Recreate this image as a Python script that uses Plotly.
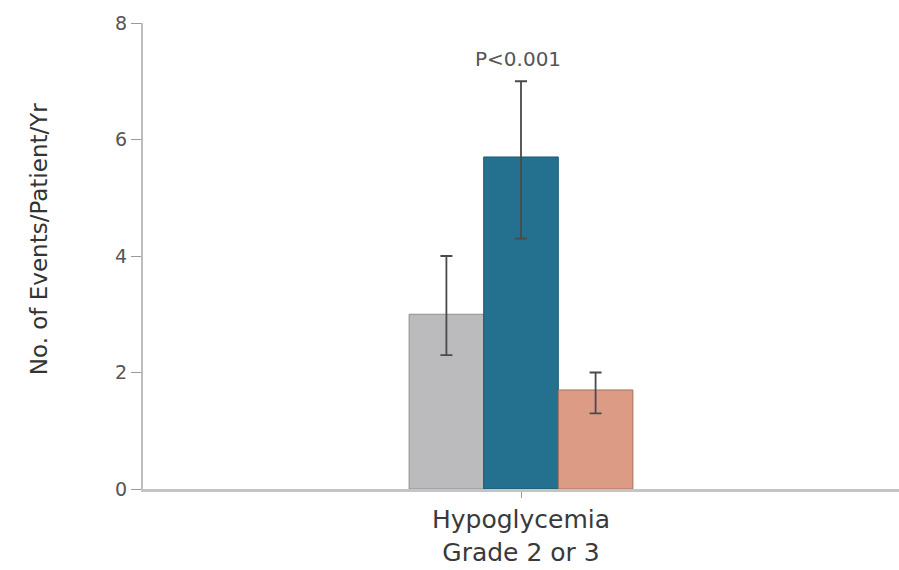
import plotly.graph_objects as go

categories = ["Hypoglycemia<br>Grade 2 or 3"]
groups = ["Group A", "Group B", "Group C"]
values = [3.0, 5.7, 1.7]
err_upper = [4.0, 7.0, 2.0]
err_lower = [2.3, 4.3, 1.3]
colors = ["#bbbbbd", "#23718f", "#dc9b85"]
line_colors = ["#8e8e90", "#1d5a72", "#a9705d"]
y_ticks = [0, 2, 4, 6, 8]
p_label = "P<0.001"
y_title = "No. of Events/Patient/Yr"

fig = go.Figure()
for i, g in enumerate(groups):
    fig.add_trace(go.Bar(
        name=g,
        x=categories,
        y=[values[i]],
        marker=dict(color=colors[i], line=dict(color=line_colors[i], width=1)),
        error_y=dict(
            type="data",
            symmetric=False,
            array=[err_upper[i] - values[i]],
            arrayminus=[values[i] - err_lower[i]],
            color="#4a4a4a",
            thickness=1.8,
            width=6,
        ),
        showlegend=False,
    ))

fig.add_annotation(
    x=categories[0], y=err_upper[1], text=p_label, showarrow=False,
    yshift=22, xshift=-3, font=dict(family="DejaVu Sans", size=20, color="#555555"),
)

fig.add_annotation(
    xref="paper", yref="paper", x=-0.1376, y=0.536, text=y_title,
    textangle=-90, showarrow=False, xanchor="center", yanchor="middle",
    font=dict(family="DejaVu Sans", size=23, color="#333333"),
)

fig.update_layout(
    width=899, height=570,
    margin=dict(l=143, r=0, t=23, b=81),
    paper_bgcolor="white", plot_bgcolor="white",
    barmode="group", bargap=0.704, bargroupgap=0,
    font=dict(family="DejaVu Sans", color="#444444"),
    xaxis=dict(
        range=[-0.5, 0.5],
        showline=True, linecolor="#c4c4c4", linewidth=3,
        ticks="outside", ticklen=6, tickcolor="#999999",
        tickfont=dict(size=25, color="#3a3a3a"),
        showgrid=False, zeroline=False,
    ),
    yaxis=dict(
        range=[0, 8], tickvals=y_ticks,
        showline=True, linecolor="#bdbdbd", linewidth=2,
        ticks="outside", ticklen=10, tickcolor="#9a9a9a",
        tickfont=dict(size=19, color="#555555"),
        showgrid=False, zeroline=False,
    ),
)

fig.write_html("out.html")
